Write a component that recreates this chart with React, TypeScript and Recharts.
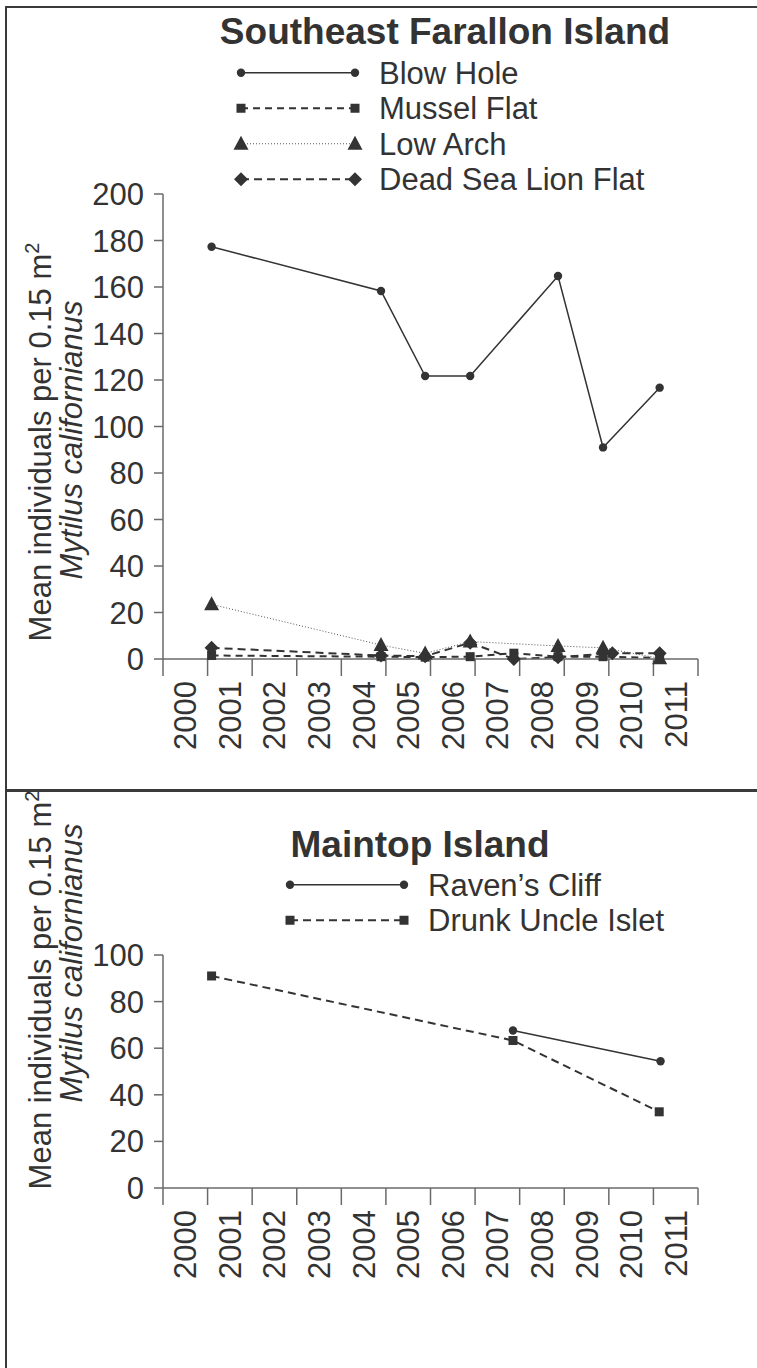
import React from 'react';
import { LineChart, Line, XAxis, YAxis, Legend } from 'recharts';

// sampling dates (decimal years) and mean counts
const blowHoleT = [2001.09, 2004.89, 2005.88, 2006.89, 2008.86, 2009.87, 2011.14];
const blowHoleV = [177.3, 158.3, 121.7, 121.7, 164.7, 91, 116.7];

const musselFlatT = [2001.09, 2004.89, 2005.88, 2006.89, 2007.87, 2008.86, 2009.87, 2011.14];
const musselFlatV = [1.5, 1, 0.8, 1, 2.5, 1, 1, 0.5];

const lowArchT = [2001.09, 2004.89, 2005.88, 2006.89, 2008.86, 2009.87, 2011.14];
const lowArchV = [23.5, 6, 2.4, 7.5, 5.6, 4.8, 0.3];

const deadSeaLionT = [2001.09, 2004.89, 2005.88, 2006.89, 2007.87, 2008.86, 2010.08, 2011.14];
const deadSeaLionV = [4.8, 1.5, 1.2, 7, 0, 0.8, 2.5, 2.5];

const ravensCliffT = [2007.85, 2011.16];
const ravensCliffV = [67.6, 54.4];

const drunkUncleT = [2001.09, 2007.85, 2011.13];
const drunkUncleV = [91, 63.3, 32.7];

const years = ['2000', '2001', '2002', '2003', '2004', '2005', '2006', '2007', '2008', '2009', '2010', '2011'];
const yTicksTop = [0, 20, 40, 60, 80, 100, 120, 140, 160, 180, 200];
const yTicksBottom = [0, 20, 40, 60, 80, 100];

const FONT = '"Liberation Sans", Arial, sans-serif';
const INK = '#333';
const AXIS = '#6a6a6a';

const PLOT_LEFT = 163;
const PLOT_RIGHT = 698;
const BAND = (PLOT_RIGHT - PLOT_LEFT) / years.length;
const xTicks = [...years.map(Number), 2012];

const toPoints = (t: number[], v: number[]) => t.map((x, i) => ({ t: x, v: v[i] }));

type Kind = 'circle' | 'square' | 'triangle' | 'diamond';

function Marker({ cx, cy, kind }: { cx: number; cy: number; kind: Kind }) {
  if (cx == null || cy == null) return null;
  if (kind === 'circle') return <circle cx={cx} cy={cy} r={4.2} fill={INK} />;
  if (kind === 'square') return <rect x={cx - 4.5} y={cy - 4.5} width={9} height={9} fill={INK} />;
  if (kind === 'triangle')
    return <polygon points={`${cx},${cy - 8} ${cx - 7.5},${cy + 6} ${cx + 7.5},${cy + 6}`} fill={INK} />;
  return <polygon points={`${cx},${cy - 7} ${cx + 7},${cy} ${cx},${cy + 7} ${cx - 7},${cy}`} fill={INK} />;
}

interface SeriesDef {
  name: string;
  data: { t: number; v: number }[];
  kind: Kind;
  dash?: string;
  width: number;
  color: string;
}

const topSeries: SeriesDef[] = [
  { name: 'Blow Hole', data: toPoints(blowHoleT, blowHoleV), kind: 'circle', width: 1.5, color: INK },
  { name: 'Mussel Flat', data: toPoints(musselFlatT, musselFlatV), kind: 'square', dash: '7 5', width: 2, color: INK },
  { name: 'Low Arch', data: toPoints(lowArchT, lowArchV), kind: 'triangle', dash: '1 2', width: 1, color: '#555' },
  { name: 'Dead Sea Lion Flat', data: toPoints(deadSeaLionT, deadSeaLionV), kind: 'diamond', dash: '8 5', width: 2, color: INK },
];

const bottomSeries: SeriesDef[] = [
  { name: 'Raven\u2019s Cliff', data: toPoints(ravensCliffT, ravensCliffV), kind: 'circle', width: 1.5, color: INK },
  { name: 'Drunk Uncle Islet', data: toPoints(drunkUncleT, drunkUncleV), kind: 'square', dash: '8 5', width: 2, color: INK },
];

function YearTick(props: any) {
  const { x, y, payload } = props;
  if (payload.value >= 2012) return null;
  return (
    <text
      transform={`translate(${x + BAND / 2 + 11},${y + 3}) rotate(-90)`}
      textAnchor="end"
      fontSize={31}
      fill={INK}
      fontFamily={FONT}
    >
      {years[payload.value - 2000]}
    </text>
  );
}

function YTitle({ cy1, cy2 }: { cy1: number; cy2: number }) {
  return (
    <g fontFamily={FONT} fontSize={31} fill={INK}>
      <text transform={`translate(51,${cy1}) rotate(-90)`} textAnchor="middle">
        Mean individuals per 0.15 m
        <tspan dy={-12} fontSize={20}>2</tspan>
      </text>
      <text transform={`translate(82,${cy2}) rotate(-90)`} textAnchor="middle" fontStyle="italic">
        Mytilus californianus
      </text>
    </g>
  );
}

function LegendBox({ series, rowH }: { series: SeriesDef[]; rowH: number }) {
  return (
    <svg width={520} height={rowH * series.length} style={{ display: 'block' }}>
      {series.map((s, i) => {
        const cy = rowH * i + rowH / 2;
        return (
          <g key={s.name}>
            <line x1={8} x2={122} y1={cy} y2={cy} stroke={s.color} strokeWidth={s.width} strokeDasharray={s.dash} />
            <Marker cx={8} cy={cy} kind={s.kind} />
            <Marker cx={122} cy={cy} kind={s.kind} />
            <text x={146} y={cy + 11} fontSize={31} fill={INK} fontFamily={FONT}>
              {s.name}
            </text>
          </g>
        );
      })}
    </svg>
  );
}

function Panel({
  series,
  height,
  plotTop,
  plotBottom,
  yMax,
  yTicks,
  yTitleCy1,
  yTitleCy2,
  legendLeft,
  legendTop,
}: {
  series: SeriesDef[];
  height: number;
  plotTop: number;
  plotBottom: number;
  yMax: number;
  yTicks: number[];
  yTitleCy1: number;
  yTitleCy2: number;
  legendLeft: number;
  legendTop: number;
}) {
  const yAxisW = 60;
  const xAxisH = 110;
  return (
    <LineChart
      width={757}
      height={height}
      margin={{
        top: plotTop,
        right: 757 - PLOT_RIGHT,
        bottom: height - plotBottom - xAxisH,
        left: PLOT_LEFT - yAxisW,
      }}
    >
      <XAxis
        dataKey="t"
        type="number"
        domain={[2000, 2012]}
        ticks={xTicks}
        interval={0}
        allowDuplicatedCategory={false}
        height={xAxisH}
        tickSize={17}
        tick={<YearTick />}
        axisLine={{ stroke: AXIS, strokeWidth: 1.5 }}
        tickLine={{ stroke: AXIS, strokeWidth: 1.5 }}
      />
      <YAxis
        type="number"
        domain={[0, yMax]}
        ticks={yTicks}
        interval={0}
        width={yAxisW}
        tickSize={9}
        tickMargin={10}
        tick={{ fontSize: 31, fill: INK, fontFamily: FONT }}
        axisLine={{ stroke: AXIS, strokeWidth: 1.5 }}
        tickLine={{ stroke: AXIS, strokeWidth: 1.5 }}
        label={<YTitle cy1={yTitleCy1} cy2={yTitleCy2} />}
      />
      <Legend
        layout="vertical"
        align="center"
        verticalAlign="middle"
        wrapperStyle={{ left: legendLeft, top: legendTop, width: 520 }}
        content={() => <LegendBox series={series} rowH={35.5} />}
      />
      {series.map((s) => (
        <Line
          key={s.name}
          name={s.name}
          data={s.data}
          dataKey="v"
          type="linear"
          stroke={s.color}
          strokeWidth={s.width}
          strokeDasharray={s.dash}
          dot={(p: any) => <Marker key={`${s.name}-${p.index}`} cx={p.cx} cy={p.cy} kind={s.kind} />}
          activeDot={false}
          isAnimationActive={false}
        />
      ))}
    </LineChart>
  );
}

export default function App() {
  const titleStyle: React.CSSProperties = {
    position: 'absolute',
    width: 600,
    textAlign: 'center',
    fontFamily: FONT,
    fontWeight: 'bold',
    fontSize: 37,
    lineHeight: '40px',
    color: INK,
  };
  return (
    <div style={{ position: 'absolute', left: 0, top: 0, width: 757, height: 1368, background: '#fff' }}>
      {/* frame */}
      <div style={{ position: 'absolute', left: 5, top: 6, width: 752, height: 2, background: '#3a3a3a' }} />
      <div style={{ position: 'absolute', left: 5, top: 6, width: 2, height: 1362, background: '#3a3a3a' }} />
      <div style={{ position: 'absolute', left: 5, top: 789, width: 752, height: 2.5, background: '#3a3a3a' }} />

      <div style={{ ...titleStyle, left: 145, top: 12 }}>Southeast Farallon Island</div>
      <div style={{ position: 'absolute', left: 0, top: 0 }}>
        <Panel
          series={topSeries}
          height={789}
          plotTop={194}
          plotBottom={659}
          yMax={200}
          yTicks={yTicksTop}
          yTitleCy1={442}
          yTitleCy2={440}
          legendLeft={233}
          legendTop={55}
        />
      </div>

      <div style={{ ...titleStyle, left: 120, top: 825 }}>Maintop Island</div>
      <div style={{ position: 'absolute', left: 0, top: 791 }}>
        <Panel
          series={bottomSeries}
          height={577}
          plotTop={164}
          plotBottom={397}
          yMax={100}
          yTicks={yTicksBottom}
          yTitleCy1={199}
          yTitleCy2={172}
          legendLeft={282}
          legendTop={76}
        />
      </div>
    </div>
  );
}
